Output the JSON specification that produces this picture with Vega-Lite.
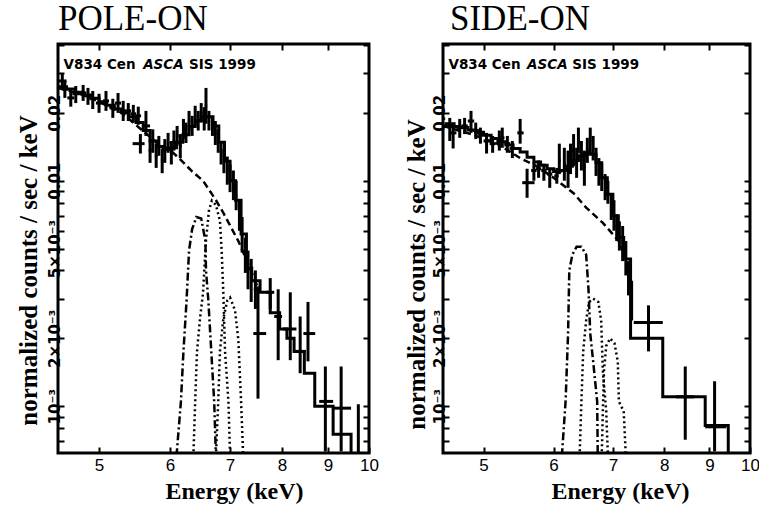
{
  "$schema": "https://vega.github.io/schema/vega-lite/v6.json",
  "background": "white",
  "padding": {"left": 14, "top": 0, "right": 8, "bottom": 0},
  "spacing": 22,
  "config": {
    "view": {"stroke": "black", "strokeWidth": 3},
    "axis": {"grid": false, "domain": false, "tickColor": "black", "tickWidth": 2, "tickSize": -6, "labelColor": "black", "titleColor": "black", "labelFont": "Liberation Sans", "titleFont": "Liberation Serif", "titleFontWeight": "bold", "labelOverlap": false, "labelFlush": false}
  },
  "datasets": {
    "L_pts": [
      {"E":4.55,"elo":4.50,"ehi":4.60,"v":0.0277,"lo":0.0255,"hi":0.0298},
      {"E":4.58,"elo":4.55,"ehi":4.62,"v":0.0255,"lo":0.0233,"hi":0.0277},
      {"E":4.65,"elo":4.61,"ehi":4.69,"v":0.0233,"lo":0.0213,"hi":0.0255},
      {"E":4.71,"elo":4.67,"ehi":4.75,"v":0.0243,"lo":0.0221,"hi":0.0263},
      {"E":4.80,"elo":4.76,"ehi":4.84,"v":0.0245,"lo":0.0226,"hi":0.0266},
      {"E":4.86,"elo":4.82,"ehi":4.90,"v":0.0238,"lo":0.0217,"hi":0.0258},
      {"E":4.92,"elo":4.88,"ehi":4.96,"v":0.0231,"lo":0.0208,"hi":0.0250},
      {"E":5.00,"elo":4.96,"ehi":5.04,"v":0.0221,"lo":0.0200,"hi":0.0243},
      {"E":5.09,"elo":5.05,"ehi":5.13,"v":0.0226,"lo":0.0204,"hi":0.0250},
      {"E":5.18,"elo":5.14,"ehi":5.22,"v":0.0210,"lo":0.0190,"hi":0.0231},
      {"E":5.25,"elo":5.21,"ehi":5.29,"v":0.0221,"lo":0.0200,"hi":0.0245},
      {"E":5.32,"elo":5.28,"ehi":5.36,"v":0.0204,"lo":0.0184,"hi":0.0226},
      {"E":5.39,"elo":5.35,"ehi":5.43,"v":0.0204,"lo":0.0184,"hi":0.0221},
      {"E":5.46,"elo":5.42,"ehi":5.50,"v":0.0198,"lo":0.0181,"hi":0.0217},
      {"E":5.53,"elo":5.49,"ehi":5.57,"v":0.0194,"lo":0.0177,"hi":0.0213},
      {"E":5.64,"elo":5.59,"ehi":5.70,"v":0.0175,"lo":0.0158,"hi":0.0204},
      {"E":5.56,"elo":5.45,"ehi":5.62,"v":0.0146,"lo":0.0132,"hi":0.0161},
      {"E":5.70,"elo":5.68,"ehi":5.72,"v":0.0136,"lo":0.0120,"hi":0.0153},
      {"E":5.74,"elo":5.72,"ehi":5.76,"v":0.0150,"lo":0.0133,"hi":0.0169},
      {"E":5.79,"elo":5.77,"ehi":5.81,"v":0.0129,"lo":0.0114,"hi":0.0146},
      {"E":5.83,"elo":5.81,"ehi":5.85,"v":0.0143,"lo":0.0129,"hi":0.0158},
      {"E":5.88,"elo":5.86,"ehi":5.90,"v":0.0123,"lo":0.0108,"hi":0.0139},
      {"E":5.92,"elo":5.90,"ehi":5.94,"v":0.0136,"lo":0.0120,"hi":0.0153},
      {"E":5.97,"elo":5.95,"ehi":5.99,"v":0.0147,"lo":0.0133,"hi":0.0163},
      {"E":6.02,"elo":6.00,"ehi":6.04,"v":0.0133,"lo":0.0118,"hi":0.0150},
      {"E":6.06,"elo":6.04,"ehi":6.08,"v":0.0150,"lo":0.0136,"hi":0.0167},
      {"E":6.11,"elo":6.09,"ehi":6.13,"v":0.0158,"lo":0.0143,"hi":0.0175},
      {"E":6.16,"elo":6.14,"ehi":6.18,"v":0.0143,"lo":0.0126,"hi":0.0161},
      {"E":6.21,"elo":6.19,"ehi":6.23,"v":0.0169,"lo":0.0153,"hi":0.0188},
      {"E":6.25,"elo":6.23,"ehi":6.27,"v":0.0163,"lo":0.0147,"hi":0.0181},
      {"E":6.30,"elo":6.28,"ehi":6.32,"v":0.0184,"lo":0.0167,"hi":0.0204},
      {"E":6.35,"elo":6.33,"ehi":6.37,"v":0.0175,"lo":0.0158,"hi":0.0194},
      {"E":6.40,"elo":6.38,"ehi":6.42,"v":0.0194,"lo":0.0175,"hi":0.0215},
      {"E":6.45,"elo":6.43,"ehi":6.47,"v":0.0184,"lo":0.0167,"hi":0.0204},
      {"E":6.50,"elo":6.48,"ehi":6.52,"v":0.0200,"lo":0.0181,"hi":0.0221},
      {"E":6.55,"elo":6.53,"ehi":6.57,"v":0.0188,"lo":0.0167,"hi":0.0212},
      {"E":6.58,"elo":6.56,"ehi":6.60,"v":0.0215,"lo":0.0179,"hi":0.0258},
      {"E":6.63,"elo":6.61,"ehi":6.65,"v":0.0184,"lo":0.0167,"hi":0.0204},
      {"E":6.69,"elo":6.67,"ehi":6.71,"v":0.0175,"lo":0.0158,"hi":0.0194},
      {"E":6.74,"elo":6.72,"ehi":6.76,"v":0.0163,"lo":0.0144,"hi":0.0184},
      {"E":6.79,"elo":6.77,"ehi":6.81,"v":0.0150,"lo":0.0133,"hi":0.0169},
      {"E":6.84,"elo":6.82,"ehi":6.86,"v":0.0133,"lo":0.0118,"hi":0.0150},
      {"E":6.89,"elo":6.87,"ehi":6.91,"v":0.0123,"lo":0.0108,"hi":0.0139},
      {"E":6.95,"elo":6.93,"ehi":6.97,"v":0.0111,"lo":0.0096,"hi":0.0128},
      {"E":7.00,"elo":6.98,"ehi":7.02,"v":0.0102,"lo":0.0089,"hi":0.0118},
      {"E":7.06,"elo":7.04,"ehi":7.08,"v":0.0095,"lo":0.0082,"hi":0.0111},
      {"E":7.11,"elo":7.09,"ehi":7.13,"v":0.0086,"lo":0.0074,"hi":0.0100},
      {"E":7.17,"elo":7.15,"ehi":7.19,"v":0.0070,"lo":0.0060,"hi":0.0082},
      {"E":7.22,"elo":7.20,"ehi":7.24,"v":0.0057,"lo":0.0048,"hi":0.0069},
      {"E":7.28,"elo":7.26,"ehi":7.30,"v":0.0047,"lo":0.0039,"hi":0.0056},
      {"E":7.33,"elo":7.31,"ehi":7.35,"v":0.0040,"lo":0.0033,"hi":0.0049},
      {"E":7.39,"elo":7.37,"ehi":7.41,"v":0.0036,"lo":0.0029,"hi":0.0045},
      {"E":7.47,"elo":7.44,"ehi":7.50,"v":0.0033,"lo":0.0027,"hi":0.0040},
      {"E":7.52,"elo":7.43,"ehi":7.68,"v":0.0021,"lo":0.00108,"hi":0.0034},
      {"E":7.76,"elo":7.68,"ehi":7.84,"v":0.0032,"lo":0.0027,"hi":0.0037},
      {"E":7.92,"elo":7.84,"ehi":8.00,"v":0.0025,"lo":0.0016,"hi":0.0033},
      {"E":8.17,"elo":8.02,"ehi":8.30,"v":0.0022,"lo":0.0016,"hi":0.0032},
      {"E":8.38,"elo":8.23,"ehi":8.50,"v":0.00175,"lo":0.0014,"hi":0.0025},
      {"E":8.55,"elo":8.45,"ehi":8.71,"v":0.0021,"lo":0.00158,"hi":0.0029},
      {"E":8.94,"elo":8.80,"ehi":9.12,"v":0.00105,"lo":0.00063,"hi":0.0015},
      {"E":9.31,"elo":9.12,"ehi":9.55,"v":0.00098,"lo":0.00063,"hi":0.0015},
      {"E":9.73,"elo":9.71,"ehi":9.75,"v":0.00086,"lo":0.00062,"hi":0.00102}
    ],
    "L_model": [
      {"E":4.50,"m":0.0261},{"E":4.60,"m":0.0255},{"E":4.70,"m":0.0247},{"E":4.80,"m":0.0240},
      {"E":4.90,"m":0.0232},{"E":5.00,"m":0.0224},{"E":5.10,"m":0.0216},{"E":5.20,"m":0.0208},
      {"E":5.30,"m":0.0200},{"E":5.40,"m":0.0192},{"E":5.50,"m":0.0181},{"E":5.60,"m":0.0167},
      {"E":5.70,"m":0.0150},{"E":5.80,"m":0.0142},{"E":5.90,"m":0.0138},{"E":6.00,"m":0.0140},
      {"E":6.10,"m":0.0148},{"E":6.20,"m":0.0160},{"E":6.30,"m":0.0174},{"E":6.40,"m":0.0185},
      {"E":6.50,"m":0.0192},{"E":6.60,"m":0.0192},{"E":6.70,"m":0.0175},{"E":6.80,"m":0.0148},
      {"E":6.90,"m":0.0122},{"E":7.00,"m":0.0100},{"E":7.10,"m":0.0082},{"E":7.20,"m":0.0058},
      {"E":7.30,"m":0.0041},{"E":7.40,"m":0.0036},{"E":7.56,"m":0.0032},{"E":7.76,"m":0.0026},
      {"E":7.95,"m":0.0022},{"E":8.10,"m":0.0020},{"E":8.25,"m":0.00175},{"E":8.47,"m":0.0014},
      {"E":8.70,"m":0.0010},{"E":9.12,"m":0.00075},{"E":9.55,"m":0.0004},{"E":10.0,"m":0.0004}
    ],
    "L_comp": [
      {"c":"cont","E":4.50,"v":0.0258},{"c":"cont","E":4.80,"v":0.0240},{"c":"cont","E":5.00,"v":0.0224},
      {"c":"cont","E":5.30,"v":0.0200},{"c":"cont","E":5.56,"v":0.0170},{"c":"cont","E":5.77,"v":0.0150},
      {"c":"cont","E":6.00,"v":0.0137},{"c":"cont","E":6.15,"v":0.0125},{"c":"cont","E":6.35,"v":0.0110},
      {"c":"cont","E":6.53,"v":0.0100},{"c":"cont","E":6.75,"v":0.0082},{"c":"cont","E":6.88,"v":0.0072},
      {"c":"cont","E":7.15,"v":0.0054},{"c":"cont","E":7.33,"v":0.0043},{"c":"cont","E":7.53,"v":0.0033},
      {"c":"l1","E":6.10,"v":0.0006},{"c":"l1","E":6.17,"v":0.00105},{"c":"l1","E":6.21,"v":0.00175},
      {"c":"l1","E":6.26,"v":0.00294},{"c":"l1","E":6.30,"v":0.0049},{"c":"l1","E":6.35,"v":0.0061},
      {"c":"l1","E":6.42,"v":0.0069},{"c":"l1","E":6.50,"v":0.0068},{"c":"l1","E":6.57,"v":0.0054},
      {"c":"l1","E":6.58,"v":0.0040},{"c":"l1","E":6.62,"v":0.00294},{"c":"l1","E":6.67,"v":0.00175},
      {"c":"l1","E":6.72,"v":0.00105},{"c":"l1","E":6.75,"v":0.0006},
      {"c":"l2","E":6.37,"v":0.0006},{"c":"l2","E":6.40,"v":0.00105},{"c":"l2","E":6.43,"v":0.00175},
      {"c":"l2","E":6.48,"v":0.00245},{"c":"l2","E":6.53,"v":0.00317},{"c":"l2","E":6.58,"v":0.00543},
      {"c":"l2","E":6.63,"v":0.00737},{"c":"l2","E":6.68,"v":0.00816},{"c":"l2","E":6.75,"v":0.0078},
      {"c":"l2","E":6.82,"v":0.00665},{"c":"l2","E":6.85,"v":0.0049},{"c":"l2","E":6.88,"v":0.00317},
      {"c":"l2","E":6.91,"v":0.00175},{"c":"l2","E":6.97,"v":0.00105},{"c":"l2","E":7.00,"v":0.0006},
      {"c":"l3","E":6.75,"v":0.0006},{"c":"l3","E":6.79,"v":0.00105},{"c":"l3","E":6.82,"v":0.00175},
      {"c":"l3","E":6.88,"v":0.00245},{"c":"l3","E":6.95,"v":0.00294},{"c":"l3","E":7.00,"v":0.00303},
      {"c":"l3","E":7.09,"v":0.00266},{"c":"l3","E":7.15,"v":0.00197},{"c":"l3","E":7.20,"v":0.00105},
      {"c":"l3","E":7.24,"v":0.0006}
    ],
    "R_pts": [
      {"E":4.58,"elo":4.52,"ehi":4.65,"v":0.0179,"lo":0.0150,"hi":0.0190},
      {"E":4.62,"elo":4.59,"ehi":4.66,"v":0.0163,"lo":0.0139,"hi":0.0179},
      {"E":4.70,"elo":4.66,"ehi":4.74,"v":0.0172,"lo":0.0155,"hi":0.0188},
      {"E":4.76,"elo":4.72,"ehi":4.80,"v":0.0175,"lo":0.0161,"hi":0.0190},
      {"E":4.84,"elo":4.80,"ehi":4.88,"v":0.0184,"lo":0.0163,"hi":0.0204},
      {"E":4.90,"elo":4.86,"ehi":4.94,"v":0.0167,"lo":0.0153,"hi":0.0181},
      {"E":4.96,"elo":4.92,"ehi":5.00,"v":0.0161,"lo":0.0146,"hi":0.0172},
      {"E":5.04,"elo":5.00,"ehi":5.09,"v":0.0150,"lo":0.0132,"hi":0.0163},
      {"E":5.12,"elo":5.08,"ehi":5.16,"v":0.0146,"lo":0.0133,"hi":0.0158},
      {"E":5.21,"elo":5.17,"ehi":5.25,"v":0.0150,"lo":0.0136,"hi":0.0167},
      {"E":5.25,"elo":5.22,"ehi":5.28,"v":0.0155,"lo":0.0140,"hi":0.0172},
      {"E":5.32,"elo":5.28,"ehi":5.36,"v":0.0146,"lo":0.0133,"hi":0.0158},
      {"E":5.39,"elo":5.35,"ehi":5.43,"v":0.0139,"lo":0.0126,"hi":0.0150},
      {"E":5.50,"elo":5.46,"ehi":5.55,"v":0.0163,"lo":0.0146,"hi":0.0188},
      {"E":5.60,"elo":5.53,"ehi":5.71,"v":0.0098,"lo":0.0084,"hi":0.0113},
      {"E":5.70,"elo":5.66,"ehi":5.74,"v":0.0111,"lo":0.0100,"hi":0.0120},
      {"E":5.77,"elo":5.73,"ehi":5.81,"v":0.0113,"lo":0.0103,"hi":0.0123},
      {"E":5.85,"elo":5.81,"ehi":5.89,"v":0.0111,"lo":0.0100,"hi":0.0119},
      {"E":5.94,"elo":5.90,"ehi":5.98,"v":0.0107,"lo":0.0093,"hi":0.0114},
      {"E":6.05,"elo":6.01,"ehi":6.08,"v":0.0105,"lo":0.0097,"hi":0.0114},
      {"E":6.09,"elo":6.07,"ehi":6.11,"v":0.0123,"lo":0.0107,"hi":0.0146},
      {"E":6.17,"elo":6.15,"ehi":6.19,"v":0.0119,"lo":0.0100,"hi":0.0140},
      {"E":6.23,"elo":6.21,"ehi":6.25,"v":0.0114,"lo":0.0093,"hi":0.0136},
      {"E":6.27,"elo":6.25,"ehi":6.29,"v":0.0125,"lo":0.0107,"hi":0.0146},
      {"E":6.32,"elo":6.30,"ehi":6.34,"v":0.0136,"lo":0.0116,"hi":0.0161},
      {"E":6.37,"elo":6.35,"ehi":6.39,"v":0.0120,"lo":0.0103,"hi":0.0140},
      {"E":6.40,"elo":6.38,"ehi":6.42,"v":0.0150,"lo":0.0132,"hi":0.0172},
      {"E":6.45,"elo":6.43,"ehi":6.47,"v":0.0129,"lo":0.0111,"hi":0.0150},
      {"E":6.50,"elo":6.48,"ehi":6.52,"v":0.0116,"lo":0.0095,"hi":0.0136},
      {"E":6.55,"elo":6.53,"ehi":6.57,"v":0.0136,"lo":0.0120,"hi":0.0155},
      {"E":6.60,"elo":6.58,"ehi":6.62,"v":0.0150,"lo":0.0132,"hi":0.0172},
      {"E":6.65,"elo":6.63,"ehi":6.67,"v":0.0139,"lo":0.0123,"hi":0.0158},
      {"E":6.70,"elo":6.68,"ehi":6.72,"v":0.0123,"lo":0.0105,"hi":0.0140},
      {"E":6.75,"elo":6.73,"ehi":6.77,"v":0.0111,"lo":0.0095,"hi":0.0126},
      {"E":6.80,"elo":6.78,"ehi":6.82,"v":0.0105,"lo":0.0090,"hi":0.0119},
      {"E":6.86,"elo":6.84,"ehi":6.88,"v":0.0095,"lo":0.0082,"hi":0.0107},
      {"E":6.91,"elo":6.89,"ehi":6.93,"v":0.0090,"lo":0.0079,"hi":0.0100},
      {"E":6.97,"elo":6.95,"ehi":6.99,"v":0.0078,"lo":0.0067,"hi":0.0088},
      {"E":7.02,"elo":7.00,"ehi":7.04,"v":0.0072,"lo":0.0060,"hi":0.0082},
      {"E":7.07,"elo":7.05,"ehi":7.09,"v":0.0063,"lo":0.0054,"hi":0.0071},
      {"E":7.12,"elo":7.10,"ehi":7.14,"v":0.0057,"lo":0.0049,"hi":0.0066},
      {"E":7.18,"elo":7.16,"ehi":7.20,"v":0.0054,"lo":0.0044,"hi":0.0063},
      {"E":7.24,"elo":7.22,"ehi":7.26,"v":0.0047,"lo":0.0038,"hi":0.0054},
      {"E":7.29,"elo":7.27,"ehi":7.31,"v":0.0038,"lo":0.0031,"hi":0.0044},
      {"E":7.35,"elo":7.33,"ehi":7.37,"v":0.0029,"lo":0.0024,"hi":0.0036},
      {"E":7.68,"elo":7.39,"ehi":7.97,"v":0.00235,"lo":0.00175,"hi":0.0028},
      {"E":8.45,"elo":8.25,"ehi":8.65,"v":0.0011,"lo":0.00071,"hi":0.0015},
      {"E":9.12,"elo":8.90,"ehi":9.40,"v":0.00081,"lo":0.00063,"hi":0.00129}
    ],
    "R_model": [
      {"E":4.50,"m":0.0175},{"E":4.60,"m":0.0174},{"E":4.70,"m":0.0172},{"E":4.80,"m":0.0168},
      {"E":4.90,"m":0.0164},{"E":5.00,"m":0.0159},{"E":5.10,"m":0.0154},{"E":5.20,"m":0.0149},
      {"E":5.30,"m":0.0144},{"E":5.40,"m":0.0139},{"E":5.50,"m":0.0134},{"E":5.60,"m":0.0127},
      {"E":5.70,"m":0.0121},{"E":5.80,"m":0.0117},{"E":5.90,"m":0.0113},{"E":6.00,"m":0.0110},
      {"E":6.10,"m":0.0111},{"E":6.20,"m":0.0116},{"E":6.30,"m":0.0123},{"E":6.40,"m":0.0129},
      {"E":6.50,"m":0.0132},{"E":6.60,"m":0.0131},{"E":6.70,"m":0.0120},{"E":6.80,"m":0.0103},
      {"E":6.90,"m":0.0087},{"E":7.00,"m":0.0070},{"E":7.10,"m":0.0056},{"E":7.20,"m":0.0045},
      {"E":7.33,"m":0.0020},{"E":7.97,"m":0.0011},{"E":8.90,"m":0.00082},{"E":9.45,"m":0.0004},
      {"E":10.0,"m":0.0004}
    ],
    "R_comp": [
      {"c":"cont","E":4.50,"v":0.0175},{"c":"cont","E":4.84,"v":0.0161},{"c":"cont","E":5.18,"v":0.0146},
      {"c":"cont","E":5.50,"v":0.0126},{"c":"cont","E":5.74,"v":0.0116},{"c":"cont","E":6.00,"v":0.0103},
      {"c":"cont","E":6.32,"v":0.0088},{"c":"cont","E":6.53,"v":0.0076},{"c":"cont","E":6.82,"v":0.0065},
      {"c":"cont","E":7.11,"v":0.0054},{"c":"cont","E":7.25,"v":0.0045},
      {"c":"l1","E":6.13,"v":0.0006},{"c":"l1","E":6.19,"v":0.00105},{"c":"l1","E":6.23,"v":0.0021},
      {"c":"l1","E":6.25,"v":0.0040},{"c":"l1","E":6.30,"v":0.0047},{"c":"l1","E":6.37,"v":0.0051},
      {"c":"l1","E":6.45,"v":0.0051},{"c":"l1","E":6.53,"v":0.0047},{"c":"l1","E":6.57,"v":0.0033},
      {"c":"l1","E":6.60,"v":0.0021},{"c":"l1","E":6.65,"v":0.00158},{"c":"l1","E":6.72,"v":0.00105},
      {"c":"l1","E":6.73,"v":0.0006},
      {"c":"l2","E":6.42,"v":0.0006},{"c":"l2","E":6.45,"v":0.00105},{"c":"l2","E":6.48,"v":0.00175},
      {"c":"l2","E":6.53,"v":0.0024},{"c":"l2","E":6.58,"v":0.0029},{"c":"l2","E":6.65,"v":0.0030},
      {"c":"l2","E":6.74,"v":0.0029},{"c":"l2","E":6.79,"v":0.0024},{"c":"l2","E":6.82,"v":0.00143},
      {"c":"l2","E":6.88,"v":0.00095},{"c":"l2","E":6.91,"v":0.0006},
      {"c":"l3","E":6.80,"v":0.0006},{"c":"l3","E":6.82,"v":0.00095},{"c":"l3","E":6.84,"v":0.00143},
      {"c":"l3","E":6.88,"v":0.00185},{"c":"l3","E":6.95,"v":0.0020},{"c":"l3","E":7.03,"v":0.0019},
      {"c":"l3","E":7.09,"v":0.00158},{"c":"l3","E":7.11,"v":0.00105},{"c":"l3","E":7.20,"v":0.00095},
      {"c":"l3","E":7.24,"v":0.0006}
    ]
  },
  "hconcat": [
    {
      "title": {"text": "POLE-ON", "anchor": "start", "frame": "group", "font": "Liberation Serif", "fontSize": 35, "fontWeight": "normal", "color": "black", "dx": 0, "offset": 6},
      "width": 311,
      "height": 409,
      "resolve": {"axis": {"x": "independent", "y": "independent"}},
      "layer": [
        {
          "data": {"name": "L_comp"},
          "mark": {"type": "line", "color": "black", "strokeWidth": 2.5, "clip": true},
          "encoding": {
            "x": {"field": "E", "type": "quantitative", "scale": {"type": "log", "domain": [4.5, 10]},
                  "axis": {"orient": "bottom", "values": [5,6,7,8,9,10], "format": "d", "labelFontSize": 17, "labelPadding": 10, "title": "Energy (keV)", "titleFontSize": 24, "titleX": 176, "titlePadding": 6}},
            "y": {"field": "v", "type": "quantitative", "scale": {"type": "log", "domain": [0.00062, 0.0404]},
                  "axis": {"orient": "left", "values": [0.0007,0.0008,0.0009,0.001,0.002,0.003,0.004,0.005,0.006,0.007,0.008,0.009,0.01,0.02,0.03,0.04],
                           "labelExpr": "datum.value==0.02?'0.02':datum.value==0.01?'0.01':datum.value==0.005?'5×10⁻³':datum.value==0.002?'2×10⁻³':datum.value==0.001?'10⁻³':''",
                           "labelAngle": -90, "labelAlign": "center", "labelBaseline": "bottom", "labelFont": "DejaVu Sans", "labelFontWeight": "bold", "labelFontSize": 15, "labelPadding": 2,
                           "title": "normalized counts / sec / keV", "titleFontSize": 25, "titleY": 226, "titlePadding": 6}},
            "strokeDash": {"field": "c", "type": "nominal", "scale": {"domain": ["cont","l1","l2","l3"], "range": [[7,4],[8,3,2,3],[2,3],[2,3]]}, "legend": null}
          }
        },
        {
          "data": {"name": "L_model"},
          "mark": {"type": "line", "color": "black", "strokeWidth": 3, "interpolate": "step-after", "clip": true},
          "encoding": {
            "x": {"field": "E", "type": "quantitative", "scale": {"type": "log", "domain": [4.5, 10]},
                  "axis": {"orient": "top", "values": [5,6,7,8,9], "labels": false, "title": null}},
            "y": {"field": "m", "type": "quantitative", "scale": {"type": "log", "domain": [0.00062, 0.0404]},
                  "axis": {"orient": "right", "values": [0.0007,0.0008,0.0009,0.001,0.002,0.003,0.004,0.005,0.006,0.007,0.008,0.009,0.01,0.02,0.03,0.04], "labels": false, "title": null}}
          }
        },
        {
          "data": {"name": "L_pts"},
          "mark": {"type": "rule", "color": "black", "strokeWidth": 3, "clip": true},
          "encoding": {
            "x": {"field": "E", "type": "quantitative", "scale": {"type": "log", "domain": [4.5, 10]}, "axis": null},
            "y": {"field": "lo", "type": "quantitative", "scale": {"type": "log", "domain": [0.00062, 0.0404]}, "axis": null},
            "y2": {"field": "hi"}
          }
        },
        {
          "data": {"name": "L_pts"},
          "mark": {"type": "rule", "color": "black", "strokeWidth": 3, "clip": true},
          "encoding": {
            "x": {"field": "elo", "type": "quantitative", "scale": {"type": "log", "domain": [4.5, 10]}, "axis": null},
            "x2": {"field": "ehi"},
            "y": {"field": "v", "type": "quantitative", "scale": {"type": "log", "domain": [0.00062, 0.0404]}, "axis": null}
          }
        },
        {
          "data": {"values": [{}]},
          "mark": {"type": "text", "font": "DejaVu Sans", "fontWeight": "bold", "fontSize": 13.5, "align": "left", "baseline": "alphabetic", "color": "black"},
          "encoding": {
            "x": {"datum": 4.565, "type": "quantitative", "scale": {"type": "log", "domain": [4.5, 10]}, "axis": null},
            "y": {"datum": 0.0313, "type": "quantitative", "scale": {"type": "log", "domain": [0.00062, 0.0404]}, "axis": null},
            "text": {"value": "V834 Cen"}
          }
        },
        {
          "data": {"values": [{}]},
          "mark": {"type": "text", "font": "DejaVu Sans", "fontWeight": "bold", "fontStyle": "italic", "fontSize": 13.5, "align": "left", "baseline": "alphabetic", "color": "black"},
          "encoding": {
            "x": {"datum": 5.6, "type": "quantitative", "scale": {"type": "log", "domain": [4.5, 10]}, "axis": null},
            "y": {"datum": 0.0313, "type": "quantitative", "scale": {"type": "log", "domain": [0.00062, 0.0404]}, "axis": null},
            "text": {"value": "ASCA"}
          }
        },
        {
          "data": {"values": [{}]},
          "mark": {"type": "text", "font": "DejaVu Sans", "fontWeight": "bold", "fontSize": 13.5, "align": "left", "baseline": "alphabetic", "color": "black"},
          "encoding": {
            "x": {"datum": 6.3, "type": "quantitative", "scale": {"type": "log", "domain": [4.5, 10]}, "axis": null},
            "y": {"datum": 0.0313, "type": "quantitative", "scale": {"type": "log", "domain": [0.00062, 0.0404]}, "axis": null},
            "text": {"value": "SIS 1999"}
          }
        }
      ]
    },
    {
      "title": {"text": "SIDE-ON", "anchor": "start", "frame": "group", "font": "Liberation Serif", "fontSize": 35, "fontWeight": "normal", "color": "black", "dx": 7, "offset": 6},
      "width": 307,
      "height": 409,
      "resolve": {"axis": {"x": "independent", "y": "independent"}},
      "layer": [
        {
          "data": {"name": "R_comp"},
          "mark": {"type": "line", "color": "black", "strokeWidth": 2.5, "clip": true},
          "encoding": {
            "x": {"field": "E", "type": "quantitative", "scale": {"type": "log", "domain": [4.5, 10]},
                  "axis": {"orient": "bottom", "values": [5,6,7,8,9,10], "format": "d", "labelFontSize": 17, "labelPadding": 10, "title": "Energy (keV)", "titleFontSize": 24, "titleX": 177, "titlePadding": 6}},
            "y": {"field": "v", "type": "quantitative", "scale": {"type": "log", "domain": [0.00062, 0.0404]},
                  "axis": {"orient": "left", "values": [0.0007,0.0008,0.0009,0.001,0.002,0.003,0.004,0.005,0.006,0.007,0.008,0.009,0.01,0.02,0.03,0.04],
                           "labelExpr": "datum.value==0.02?'0.02':datum.value==0.01?'0.01':datum.value==0.005?'5×10⁻³':datum.value==0.002?'2×10⁻³':datum.value==0.001?'10⁻³':''",
                           "labelAngle": -90, "labelAlign": "center", "labelBaseline": "bottom", "labelFont": "DejaVu Sans", "labelFontWeight": "bold", "labelFontSize": 15, "labelPadding": 2,
                           "title": "normalized counts / sec / keV", "titleFontSize": 25, "titleY": 230, "titlePadding": 3}},
            "strokeDash": {"field": "c", "type": "nominal", "scale": {"domain": ["cont","l1","l2","l3"], "range": [[7,4],[8,3,2,3],[2,3],[2,3]]}, "legend": null}
          }
        },
        {
          "data": {"name": "R_model"},
          "mark": {"type": "line", "color": "black", "strokeWidth": 3, "interpolate": "step-after", "clip": true},
          "encoding": {
            "x": {"field": "E", "type": "quantitative", "scale": {"type": "log", "domain": [4.5, 10]},
                  "axis": {"orient": "top", "values": [5,6,7,8,9], "labels": false, "title": null}},
            "y": {"field": "m", "type": "quantitative", "scale": {"type": "log", "domain": [0.00062, 0.0404]},
                  "axis": {"orient": "right", "values": [0.0007,0.0008,0.0009,0.001,0.002,0.003,0.004,0.005,0.006,0.007,0.008,0.009,0.01,0.02,0.03,0.04], "labels": false, "title": null}}
          }
        },
        {
          "data": {"name": "R_pts"},
          "mark": {"type": "rule", "color": "black", "strokeWidth": 3, "clip": true},
          "encoding": {
            "x": {"field": "E", "type": "quantitative", "scale": {"type": "log", "domain": [4.5, 10]}, "axis": null},
            "y": {"field": "lo", "type": "quantitative", "scale": {"type": "log", "domain": [0.00062, 0.0404]}, "axis": null},
            "y2": {"field": "hi"}
          }
        },
        {
          "data": {"name": "R_pts"},
          "mark": {"type": "rule", "color": "black", "strokeWidth": 3, "clip": true},
          "encoding": {
            "x": {"field": "elo", "type": "quantitative", "scale": {"type": "log", "domain": [4.5, 10]}, "axis": null},
            "x2": {"field": "ehi"},
            "y": {"field": "v", "type": "quantitative", "scale": {"type": "log", "domain": [0.00062, 0.0404]}, "axis": null}
          }
        },
        {
          "data": {"values": [{}]},
          "mark": {"type": "text", "font": "DejaVu Sans", "fontWeight": "bold", "fontSize": 13.5, "align": "left", "baseline": "alphabetic", "color": "black"},
          "encoding": {
            "x": {"datum": 4.565, "type": "quantitative", "scale": {"type": "log", "domain": [4.5, 10]}, "axis": null},
            "y": {"datum": 0.0313, "type": "quantitative", "scale": {"type": "log", "domain": [0.00062, 0.0404]}, "axis": null},
            "text": {"value": "V834 Cen"}
          }
        },
        {
          "data": {"values": [{}]},
          "mark": {"type": "text", "font": "DejaVu Sans", "fontWeight": "bold", "fontStyle": "italic", "fontSize": 13.5, "align": "left", "baseline": "alphabetic", "color": "black"},
          "encoding": {
            "x": {"datum": 5.6, "type": "quantitative", "scale": {"type": "log", "domain": [4.5, 10]}, "axis": null},
            "y": {"datum": 0.0313, "type": "quantitative", "scale": {"type": "log", "domain": [0.00062, 0.0404]}, "axis": null},
            "text": {"value": "ASCA"}
          }
        },
        {
          "data": {"values": [{}]},
          "mark": {"type": "text", "font": "DejaVu Sans", "fontWeight": "bold", "fontSize": 13.5, "align": "left", "baseline": "alphabetic", "color": "black"},
          "encoding": {
            "x": {"datum": 6.3, "type": "quantitative", "scale": {"type": "log", "domain": [4.5, 10]}, "axis": null},
            "y": {"datum": 0.0313, "type": "quantitative", "scale": {"type": "log", "domain": [0.00062, 0.0404]}, "axis": null},
            "text": {"value": "SIS 1999"}
          }
        }
      ]
    }
  ]
}
